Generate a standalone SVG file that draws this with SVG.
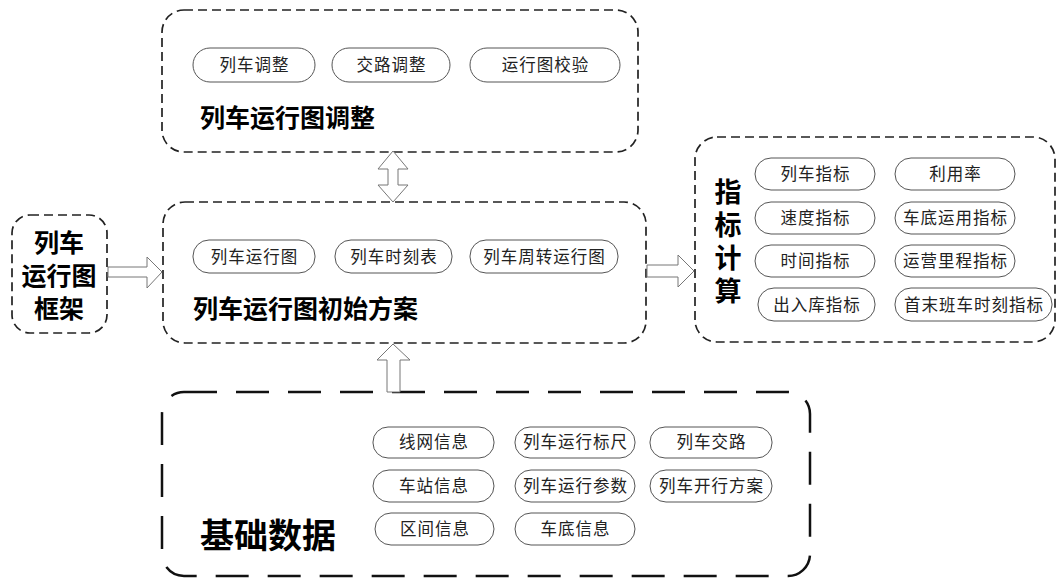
<svg xmlns="http://www.w3.org/2000/svg" width="1059" height="579" viewBox="0 0 1059 579">
<style>
.box{fill:none;stroke:#222;stroke-width:1.7;stroke-dasharray:9 5}
.bigbox{fill:none;stroke:#111;stroke-width:2.5;stroke-dasharray:33 19}
.pill{fill:#fff;stroke:#555;stroke-width:1}
.pt{font-family:"Noto Sans CJK SC",sans-serif;font-size:16.5px;letter-spacing:1px;fill:#222;text-anchor:middle}
.title{font-family:"Noto Sans CJK SC",sans-serif;font-weight:bold;fill:#000}
.arr{fill:#fff;stroke:#777;stroke-width:1}
</style>
<rect width="1059" height="579" fill="#fff"/>
<g id="adjust">
<rect class="box" x="162" y="10" width="476" height="142" rx="22"/>
<rect class="pill" x="193" y="48" width="122" height="34" rx="17"/><text class="pt" x="254.5" y="71">列车调整</text>
<rect class="pill" x="332" y="48" width="118" height="34" rx="17"/><text class="pt" x="391.5" y="71">交路调整</text>
<rect class="pill" x="470" y="48" width="150" height="34" rx="17"/><text class="pt" x="545.5" y="71">运行图校验</text>
<text class="title" x="200" y="127" font-size="25">列车运行图调整</text>
</g>
<g id="initial">
<rect class="box" x="163" y="202" width="483" height="141" rx="22"/>
<rect class="pill" x="193" y="240" width="122" height="33" rx="16"/><text class="pt" x="254.5" y="263">列车运行图</text>
<rect class="pill" x="335" y="240" width="117" height="33" rx="16"/><text class="pt" x="394" y="263">列车时刻表</text>
<rect class="pill" x="470" y="240" width="148" height="33" rx="16"/><text class="pt" x="544.5" y="263">列车周转运行图</text>
<text class="title" x="193" y="318" font-size="25">列车运行图初始方案</text>
</g>
<g id="frame">
<rect class="box" x="12" y="215" width="95" height="118" rx="18"/>
<text class="title" font-size="25" text-anchor="middle"><tspan x="59" y="252">列车</tspan><tspan x="59" y="285">运行图</tspan><tspan x="59" y="318">框架</tspan></text>
</g>
<g id="index">
<rect class="box" x="695" y="137" width="360" height="205" rx="22"/>
<text class="title" font-size="27" x="728" y="178" writing-mode="tb" letter-spacing="6">指标计算</text>
<rect class="pill" x="755" y="158" width="120" height="32" rx="16"/><text class="pt" x="815.5" y="180">列车指标</text>
<rect class="pill" x="895" y="158" width="120" height="32" rx="16"/><text class="pt" x="955.5" y="180">利用率</text>
<rect class="pill" x="755" y="202" width="120" height="32" rx="16"/><text class="pt" x="815.5" y="224">速度指标</text>
<rect class="pill" x="895" y="202" width="120" height="32" rx="16"/><text class="pt" x="955.5" y="224">车底运用指标</text>
<rect class="pill" x="755" y="245" width="120" height="32" rx="16"/><text class="pt" x="815.5" y="267">时间指标</text>
<rect class="pill" x="895" y="245" width="120" height="32" rx="16"/><text class="pt" x="955.5" y="267">运营里程指标</text>
<rect class="pill" x="758" y="288" width="117" height="33" rx="16"/><text class="pt" x="817" y="311">出入库指标</text>
<rect class="pill" x="895" y="288" width="157" height="33" rx="16"/><text class="pt" x="974" y="311">首末班车时刻指标</text>
</g>
<g id="basic">
<rect class="bigbox" x="162" y="392" width="648" height="184" rx="22"/>
<rect class="pill" x="373" y="427" width="121" height="31" rx="15"/><text class="pt" x="434" y="448">线网信息</text>
<rect class="pill" x="515" y="427" width="120" height="31" rx="15"/><text class="pt" x="575.5" y="448">列车运行标尺</text>
<rect class="pill" x="650" y="427" width="122" height="31" rx="15"/><text class="pt" x="711.5" y="448">列车交路</text>
<rect class="pill" x="373" y="470" width="121" height="32" rx="16"/><text class="pt" x="434" y="492">车站信息</text>
<rect class="pill" x="515" y="470" width="120" height="32" rx="16"/><text class="pt" x="575.5" y="492">列车运行参数</text>
<rect class="pill" x="650" y="470" width="122" height="32" rx="16"/><text class="pt" x="711.5" y="492">列车开行方案</text>
<rect class="pill" x="375" y="513" width="119" height="32" rx="16"/><text class="pt" x="435" y="535">区间信息</text>
<rect class="pill" x="515" y="513" width="120" height="32" rx="16"/><text class="pt" x="575.5" y="535">车底信息</text>
<text class="title" x="200" y="548" font-size="34">基础数据</text>
</g>
<g id="connectors">
<polygon class="arr" points="393,151 408,169 398,169 398,185 408,185 393,202 378,185 388,185 388,169 378,169"/>
<polygon class="arr" points="108,267 147,267 147,257 162,272 147,288 147,277 108,277"/>
<polygon class="arr" points="647,265 678,265 678,255 694,271 678,287 678,277 647,277"/>
<polygon class="arr" points="393,344 410,360 400,360 400,392 387,392 387,360 377,360"/>
</g>
</svg>
